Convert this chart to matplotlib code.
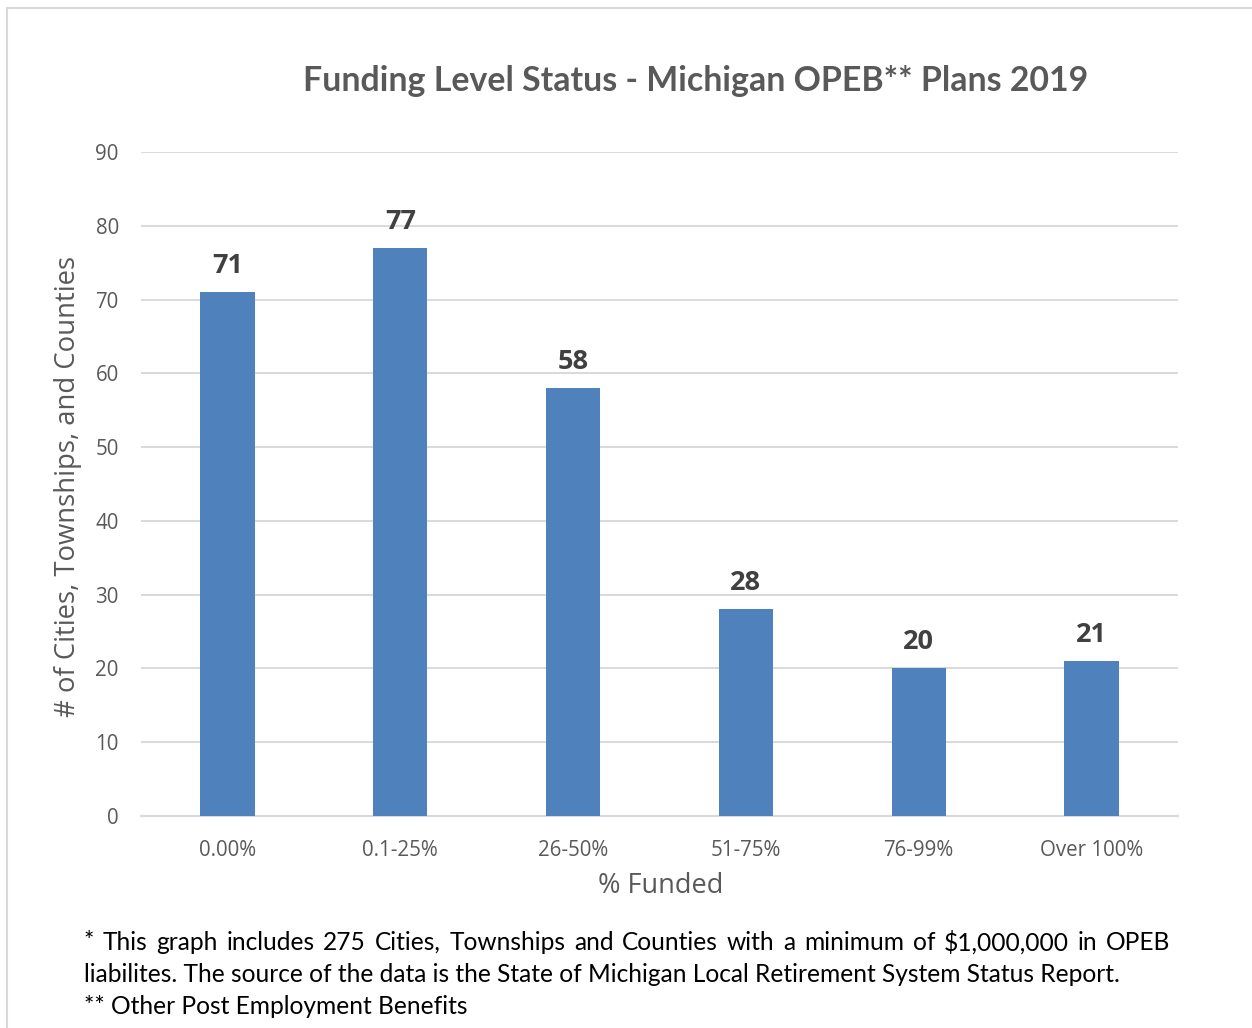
import matplotlib
matplotlib.use("Agg")
import matplotlib.pyplot as plt
from matplotlib.lines import Line2D

categories = ["0.00%", "0.1-25%", "26-50%", "51-75%", "76-99%", "Over 100%"]
values = [71, 77, 58, 28, 20, 21]
yticks = [0, 10, 20, 30, 40, 50, 60, 70, 80, 90]
title = "Funding Level Status - Michigan OPEB** Plans 2019"
ylabel = "# of Cities, Townships, and Counties"
xlabel = "% Funded"
foot_lines = [
    "*  This graph includes 275 Cities, Townships and Counties with a minimum of $1,000,000 in OPEB",
    "liabilites. The source of the data is the State of Michigan Local Retirement System Status Report.",
    "** Other Post Employment Benefits",
]

plt.rcParams["font.family"] = ["Open Sans", "DejaVu Sans"]

W, H = 1252, 1028
fig = plt.figure(figsize=(W / 100, H / 100), dpi=100)
ax = fig.add_axes([141 / W, 1 - 816 / H, (1178 - 141) / W, (816 - 152) / H])

bar_color = "#4f81bd"
x = list(range(len(categories)))
ax.bar(x, values, width=0.315, color=bar_color, zorder=3)
ax.set_xlim(-0.5, len(categories) - 0.5)
ax.set_ylim(0, 90)
ax.set_yticks(yticks)
ax.set_xticks(x)
ax.set_xticklabels(categories)
ax.grid(axis="y", color="#d9d9d9", linewidth=1.4, zorder=0)
for s in ["top", "right", "left"]:
    ax.spines[s].set_visible(False)
ax.spines["bottom"].set_color("#d9d9d9")
ax.spines["bottom"].set_linewidth(1.6)
ax.tick_params(axis="both", length=0, labelcolor="#595959", labelsize=14.8)
ax.tick_params(axis="x", pad=17)
ax.tick_params(axis="y", pad=16)

for xi, v in zip(x, values):
    ax.annotate(str(v), (xi, v), xytext=(0, 9.5), textcoords="offset points",
                ha="center", va="bottom", fontsize=19.5, fontweight="bold",
                color="#404040")

fig.text(696 / W, 1 - 81 / H, title, ha="center", va="center", fontsize=24.4,
         fontweight="bold", color="#595959", family="Lato")
fig.text(68 / W, 1 - 486 / H, ylabel, rotation=90, ha="center", va="center",
         fontsize=19.8, color="#595959")
fig.text(661 / W, 1 - 886 / H, xlabel, ha="center", va="center",
         fontsize=19.5, color="#595959")

# border (left and top edges)
fig.add_artist(Line2D([7 / W, 7 / W], [0, 1 - 8 / H], transform=fig.transFigure,
                      color="#d9d9d9", linewidth=1.5))
fig.add_artist(Line2D([7 / W, 1], [1 - 8 / H, 1 - 8 / H], transform=fig.transFigure,
                      color="#d9d9d9", linewidth=1.5))

# footnote: size fitted so the second line spans its width; first line justified
fig.canvas.draw()
renderer = fig.canvas.get_renderer()
left_px, right_px, line2_right = 84, 1170, 1124
probe = fig.text(0, 0, foot_lines[1], fontsize=15, family="Lato")
fs = 15 * (line2_right - left_px) / probe.get_window_extent(renderer).width
probe.remove()
ys = [942, 974, 1006]
fkw = dict(fontsize=fs, color="black", family="Lato", va="center", ha="left")
for i, (line, yp) in enumerate(zip(foot_lines, ys)):
    if i == 0:
        words = line.split()
        widths = []
        for w in words:
            t = fig.text(0, 0, w, **fkw)
            widths.append(t.get_window_extent(renderer).width)
            t.remove()
        gap = (right_px - left_px - sum(widths)) / (len(words) - 1)
        xp = left_px
        for w, wd in zip(words, widths):
            fig.text(xp / W, 1 - yp / H, w, **fkw)
            xp += wd + gap
    else:
        fig.text(left_px / W, 1 - yp / H, line, **fkw)

fig.savefig("out.png", dpi=100)
